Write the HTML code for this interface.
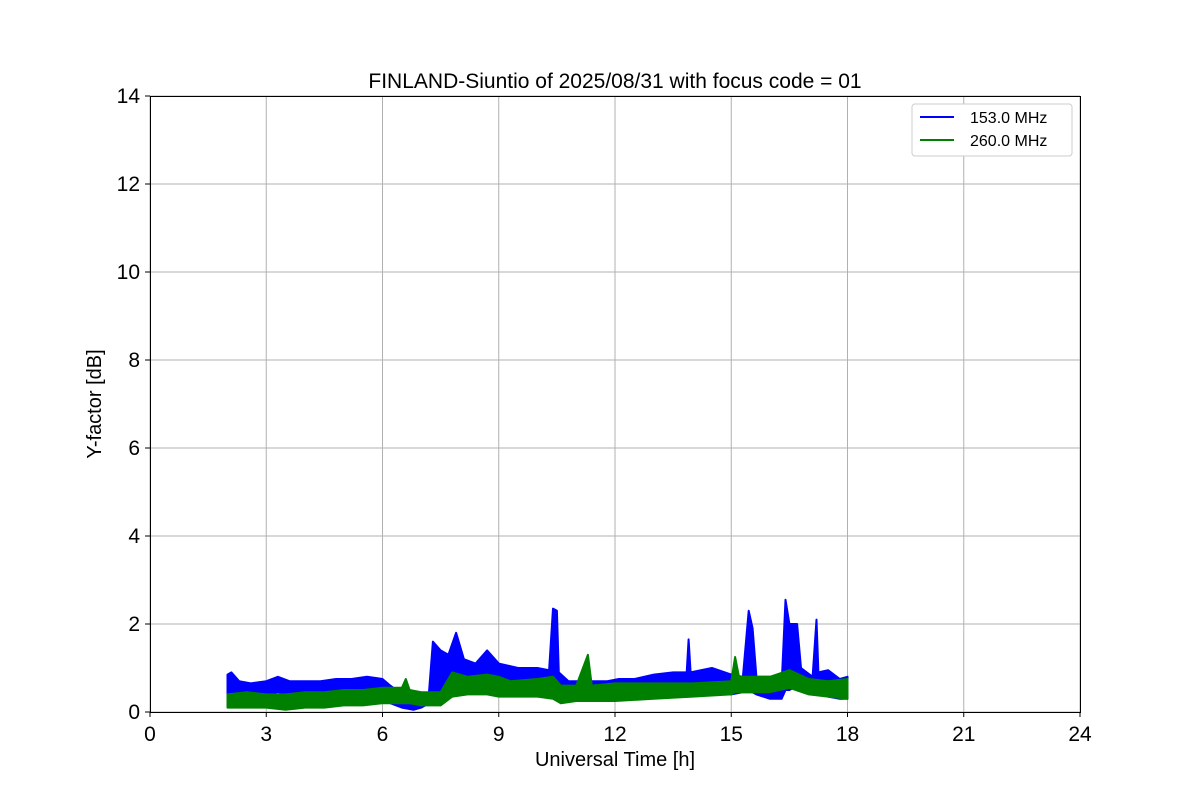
<!DOCTYPE html>
<html><head><meta charset="utf-8"><style>
body{margin:0;background:#fff;}
svg{font-family:"Liberation Sans","DejaVu Sans",sans-serif;}
</style></head><body>
<svg id="chart" width="1200" height="800" xmlns="http://www.w3.org/2000/svg">
<rect width="1200" height="800" fill="#fff"/>
<g id="grid"></g>
<g id="series"></g>
<rect x="150.5" y="96.5" width="930" height="616" fill="none" stroke="#000" stroke-width="1"/>
<g id="ticks"></g>
<text x="615" y="88" text-anchor="middle" font-size="21">FINLAND-Siuntio of 2025/08/31 with focus code = 01</text>
<text x="615" y="766" text-anchor="middle" font-size="20">Universal Time [h]</text>
<text transform="translate(101,404) rotate(-90)" text-anchor="middle" font-size="20">Y-factor [dB]</text>
<g>
<rect x="912" y="104" width="160" height="52" rx="3" fill="#fff" stroke="#ccc"/>
<line x1="920" y1="117" x2="954" y2="117" stroke="#0000ff" stroke-width="2"/>
<text x="970" y="123" font-size="16">153.0 MHz</text>
<line x1="920" y1="140" x2="954" y2="140" stroke="#008000" stroke-width="2"/>
<text x="970" y="146" font-size="16">260.0 MHz</text>
</g>
</svg>
<script>
const xTicks=[0,3,6,9,12,15,18,21,24];
const yTicks=[0,2,4,6,8,10,12,14];
const blueT=[2.0,2.1,2.3,2.6,3.0,3.3,3.6,4.0,4.4,4.8,5.2,5.6,6.0,6.2,6.5,6.8,7.0,7.2,7.3,7.5,7.7,7.9,8.1,8.4,8.7,9.0,9.5,10.0,10.3,10.4,10.5,10.55,10.8,11.3,11.8,12.1,12.5,13.0,13.5,13.85,13.9,13.95,14.5,15.0,15.3,15.45,15.55,15.65,16.0,16.3,16.4,16.5,16.7,16.8,17.1,17.2,17.25,17.5,17.8,18.0];
const blueHi=[.85,.9,.7,.65,.7,.8,.7,.7,.7,.75,.75,.8,.75,.6,.4,.35,.4,.45,1.6,1.4,1.3,1.8,1.2,1.1,1.4,1.1,1.0,1.0,.95,2.35,2.3,.9,.7,.7,.7,.75,.75,.85,.9,.9,1.65,.9,1.0,.85,.8,2.3,1.9,.8,.8,.6,2.55,2.0,2.0,1.0,.8,2.1,.9,.95,.75,.8];
const blueLo=[.4,.45,.4,.4,.4,.45,.4,.35,.4,.4,.4,.45,.4,.2,.1,.05,.1,.2,.3,.35,.5,.6,.55,.55,.6,.55,.5,.5,.45,.5,.4,.3,.3,.3,.3,.3,.35,.35,.35,.4,.4,.4,.4,.4,.45,.45,.45,.4,.3,.3,.5,.5,.6,.5,.4,.4,.4,.35,.3,.3];
const greenT=[2.0,2.5,3.0,3.5,4.0,4.5,5.0,5.5,6.0,6.5,6.6,6.7,7.0,7.5,7.8,8.2,8.7,9.0,9.3,10.0,10.4,10.6,11.0,11.3,11.4,12.0,13.0,14.0,15.0,15.1,15.2,16.0,16.5,17.0,17.5,18.0];
const greenHi=[.4,.45,.4,.4,.45,.45,.5,.5,.55,.55,.75,.5,.45,.45,.9,.8,.85,.8,.7,.75,.8,.6,.6,1.3,.6,.65,.65,.65,.7,1.25,.8,.8,.95,.75,.7,.75];
const greenLo=[.1,.1,.1,.05,.1,.1,.15,.15,.2,.2,.2,.2,.15,.15,.35,.4,.4,.35,.35,.35,.3,.2,.25,.25,.25,.25,.3,.35,.4,.45,.45,.45,.55,.4,.35,.3];
const X=t=>150+t*930/24, Y=v=>712-v*616/14;
const NS="http://www.w3.org/2000/svg";
const grid=document.getElementById('grid'),ticks=document.getElementById('ticks'),series=document.getElementById('series');
function mk(tag,attrs,parent){const e=document.createElementNS(NS,tag);for(const k in attrs)e.setAttribute(k,attrs[k]);parent.appendChild(e);return e;}
xTicks.forEach(t=>{
 const g=mk('line',{x1:X(t),x2:X(t),y1:96,y2:712,stroke:'#b0b0b0','stroke-width':1},grid);
 
 
 const tk=mk('line',{x1:X(t),x2:X(t),y1:712,y2:717,stroke:'#000'},ticks);
 
 
 const tx=mk('text',{x:X(t),y:741,'text-anchor':'middle','font-size':21},ticks);
 tx.textContent=t;
 
 
});
yTicks.forEach(v=>{
 const g=mk('line',{x1:150,x2:1080,y1:Y(v),y2:Y(v),stroke:'#b0b0b0','stroke-width':1},grid);
 
 
 const tk=mk('line',{x1:145,x2:150,y1:Y(v),y2:Y(v),stroke:'#000'},ticks);
 
 
 const tx=mk('text',{x:140,y:Y(v)+7,'text-anchor':'end','font-size':21},ticks);
 tx.textContent=v;
 
 
});
function band(T,H,L,color,name){
 let pts=[];
 for(let i=0;i<T.length;i++)pts.push(X(T[i]).toFixed(1)+','+Y(H[i]).toFixed(1));
 for(let i=T.length-1;i>=0;i--)pts.push(X(T[i]).toFixed(1)+','+Y(L[i]).toFixed(1));
 const p=mk('polygon',{points:pts.join(' '),fill:color,stroke:color,'stroke-width':2,'stroke-linejoin':'round'},series);
 
 
}
band(blueT,blueHi,blueLo,'#0000ff','series-153mhz');
band(greenT,greenHi,greenLo,'#008000','series-260mhz');
</script>
</body></html>
